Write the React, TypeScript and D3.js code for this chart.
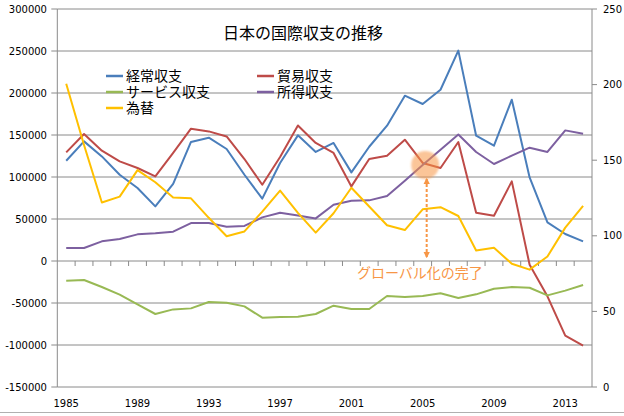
import React from "react";
import * as d3 from "d3";

const years: number[] = d3.range(1985, 2015);
const xTickLabels: number[] = [1985, 1989, 1993, 1997, 2001, 2005, 2009, 2013];

const currentAccount: number[] = [119400, 142400, 124500, 102700, 86900, 65000, 91700, 141700, 146800, 133300, 102700, 74200, 116700, 149600, 129800, 140500, 105500, 136000, 161100, 196800, 186900, 203900, 250400, 149200, 137300, 192000, 99500, 46000, 32100, 23400];
const tradeBalance: number[] = [129300, 151200, 131300, 118600, 110700, 100700, 128600, 157500, 154300, 148300, 121400, 90800, 123800, 161400, 140500, 128600, 88800, 121400, 125400, 144400, 116700, 110700, 141700, 57500, 53900, 94800, -4400, -42100, -88900, -100800];
const servicesBalance: number[] = [-23400, -22600, -31000, -40100, -51700, -63100, -57600, -56400, -48800, -49600, -54000, -67500, -66700, -66300, -63100, -53200, -57100, -57100, -41700, -42900, -41700, -38500, -44000, -39700, -33000, -31000, -31800, -40900, -35300, -28600];
const incomeBalance: number[] = [15500, 15500, 23400, 26200, 31700, 32900, 34900, 45200, 45200, 40800, 41700, 51900, 57500, 54300, 50700, 67000, 71800, 72200, 77300, 95600, 114200, 132500, 150500, 129800, 115500, 125400, 134900, 129800, 155500, 151500];
const exchangeRate: number[] = [200.6, 160.1, 122.0, 125.9, 143.4, 135.4, 125.3, 124.8, 111.9, 99.7, 102.9, 116.0, 129.9, 115.2, 102.1, 114.9, 131.8, 119.4, 107.0, 103.8, 117.5, 118.9, 113.1, 90.3, 92.1, 81.5, 77.6, 86.3, 105.4, 119.8];

const leftTicks: number[] = [-150000, -100000, -50000, 0, 50000, 100000, 150000, 200000, 250000, 300000];
const rightTicks: number[] = [0, 50, 100, 150, 200, 250];

const seriesNames = ["経常収支", "貿易収支", "サービス収支", "所得収支", "為替"];
const seriesColors = ["#4a7ebb", "#be4b48", "#98b954", "#7d60a0", "#ffc000"];

const title = "日本の国際収支の推移";
const annotationText = "グローバル化の完了";
const annotationYear = 2005;

const W = 624, H = 416;
const left = 57.3, right = 592, top = 9, bottom = 387;

export default function App() {
  const x = d3.scaleBand<number>().domain(years).range([left, right]).padding(0);
  const cx = (yr: number) => (x(yr) as number) + x.bandwidth() / 2;
  const yL = d3.scaleLinear().domain([-150000, 300000]).range([bottom, top]);
  const yR = d3.scaleLinear().domain([0, 250]).range([bottom, top]);

  const lineL = d3.line<number>().x((_, i) => cx(years[i])).y((d) => yL(d));
  const lineR = d3.line<number>().x((_, i) => cx(years[i])).y((d) => yR(d));

  const leftSeries = [currentAccount, tradeBalance, servicesBalance, incomeBalance];
  const tickFont = "DejaVu Sans, Verdana, sans-serif";
  const jpFont = "'Noto Sans CJK JP', sans-serif";
  const gridColor = "#8a8a8a";
  const orange = "#f79646";

  const ax = cx(annotationYear) + 4;
  const circleY = 165;

  const legendItems = [
    { i: 0, lx: 106, ly: 76 },
    { i: 1, lx: 257, ly: 76 },
    { i: 2, lx: 106, ly: 92 },
    { i: 3, lx: 257, ly: 92 },
    { i: 4, lx: 106, ly: 108 },
  ];

  return (
    <svg width={W} height={H} style={{ position: "absolute", left: 0, top: 0, background: "#fff" }}>
      <defs>
        <filter id="soft" x="-50%" y="-50%" width="200%" height="200%">
          <feGaussianBlur stdDeviation="1.2" />
        </filter>
        <marker id="arrEnd" viewBox="0 0 10 10" refX="8" refY="5" markerWidth="3.2" markerHeight="3.2" orient="auto">
          <path d="M0,0 L10,5 L0,10 z" fill={orange} />
        </marker>
        <marker id="arrStart" viewBox="0 0 10 10" refX="2" refY="5" markerWidth="3.2" markerHeight="3.2" orient="auto">
          <path d="M10,0 L0,5 L10,10 z" fill={orange} />
        </marker>
      </defs>
      <rect x={0} y={0} width={W} height={H} fill="#fff" />

      {/* gridlines */}
      {leftTicks.filter((t) => t !== 0).map((t) => (
        <line key={"g" + t} x1={left} x2={right} y1={yL(t)} y2={yL(t)} stroke={gridColor} strokeWidth={1} />
      ))}
      {/* left axis */}
      <line x1={left} x2={left} y1={top} y2={bottom} stroke={gridColor} strokeWidth={1} />
      {leftTicks.map((t) => (
        <g key={"lt" + t}>
          <line x1={left - 6} x2={left} y1={yL(t)} y2={yL(t)} stroke={gridColor} />
          <text x={47} y={yL(t)} dy="0.35em" textAnchor="end" fontFamily={tickFont} fontSize={10} fill="#000">{t}</text>
        </g>
      ))}
      {/* right axis */}
      <line x1={right} x2={right} y1={top} y2={bottom} stroke={gridColor} strokeWidth={1} />
      {rightTicks.map((t) => (
        <g key={"rt" + t}>
          <line x1={right} x2={right + 5} y1={yR(t)} y2={yR(t)} stroke={gridColor} />
          <text x={603} y={yR(t)} dy="0.35em" textAnchor="start" fontFamily={tickFont} fontSize={10} fill="#000">{t}</text>
        </g>
      ))}
      {/* category axis at 0 */}
      <line x1={left} x2={right} y1={yL(0)} y2={yL(0)} stroke={gridColor} strokeWidth={1} />
      {years.slice(1).map((yr) => (
        <line key={"xt" + yr} x1={x(yr) as number} x2={x(yr) as number} y1={yL(0)} y2={yL(0) + 5} stroke={gridColor} />
      ))}
      {xTickLabels.map((yr) => (
        <text key={"xl" + yr} x={cx(yr)} y={407} textAnchor="middle" fontFamily={tickFont} fontSize={10} fill="#000">{yr}</text>
      ))}

      {/* series */}
      {leftSeries.map((s, i) => (
        <path key={"s" + i} d={lineL(s) as string} fill="none" stroke={seriesColors[i]} strokeWidth={2} strokeLinejoin="round" />
      ))}
      <path d={lineR(exchangeRate) as string} fill="none" stroke={seriesColors[4]} strokeWidth={2} strokeLinejoin="round" />

      {/* annotation */}
      <circle cx={ax - 1.5} cy={circleY} r={14} fill={orange} fillOpacity={0.55} filter="url(#soft)" />
      <line x1={ax} x2={ax} y1={179} y2={257} stroke={orange} strokeWidth={2} strokeDasharray="3,2" markerStart="url(#arrStart)" markerEnd="url(#arrEnd)" />
      <text x={357} y={278} fontFamily={jpFont} fontSize={14} fill={orange}>{annotationText}</text>

      {/* title */}
      <text x={303} y={39} textAnchor="middle" fontFamily={jpFont} fontSize={16} fill="#000">{title}</text>

      {/* legend */}
      {legendItems.map(({ i, lx, ly }) => (
        <g key={"lg" + i}>
          <line x1={lx} x2={lx + 17} y1={ly} y2={ly} stroke={seriesColors[i]} strokeWidth={2.5} />
          <text x={lx + 20} y={ly} dy="0.36em" fontFamily={jpFont} fontSize={14} fill="#000">{seriesNames[i]}</text>
        </g>
      ))}

      {/* chart border bottom */}
      <line x1={0} x2={W} y1={412.5} y2={412.5} stroke="#b0b0b0" strokeWidth={1} />
    </svg>
  );
}
